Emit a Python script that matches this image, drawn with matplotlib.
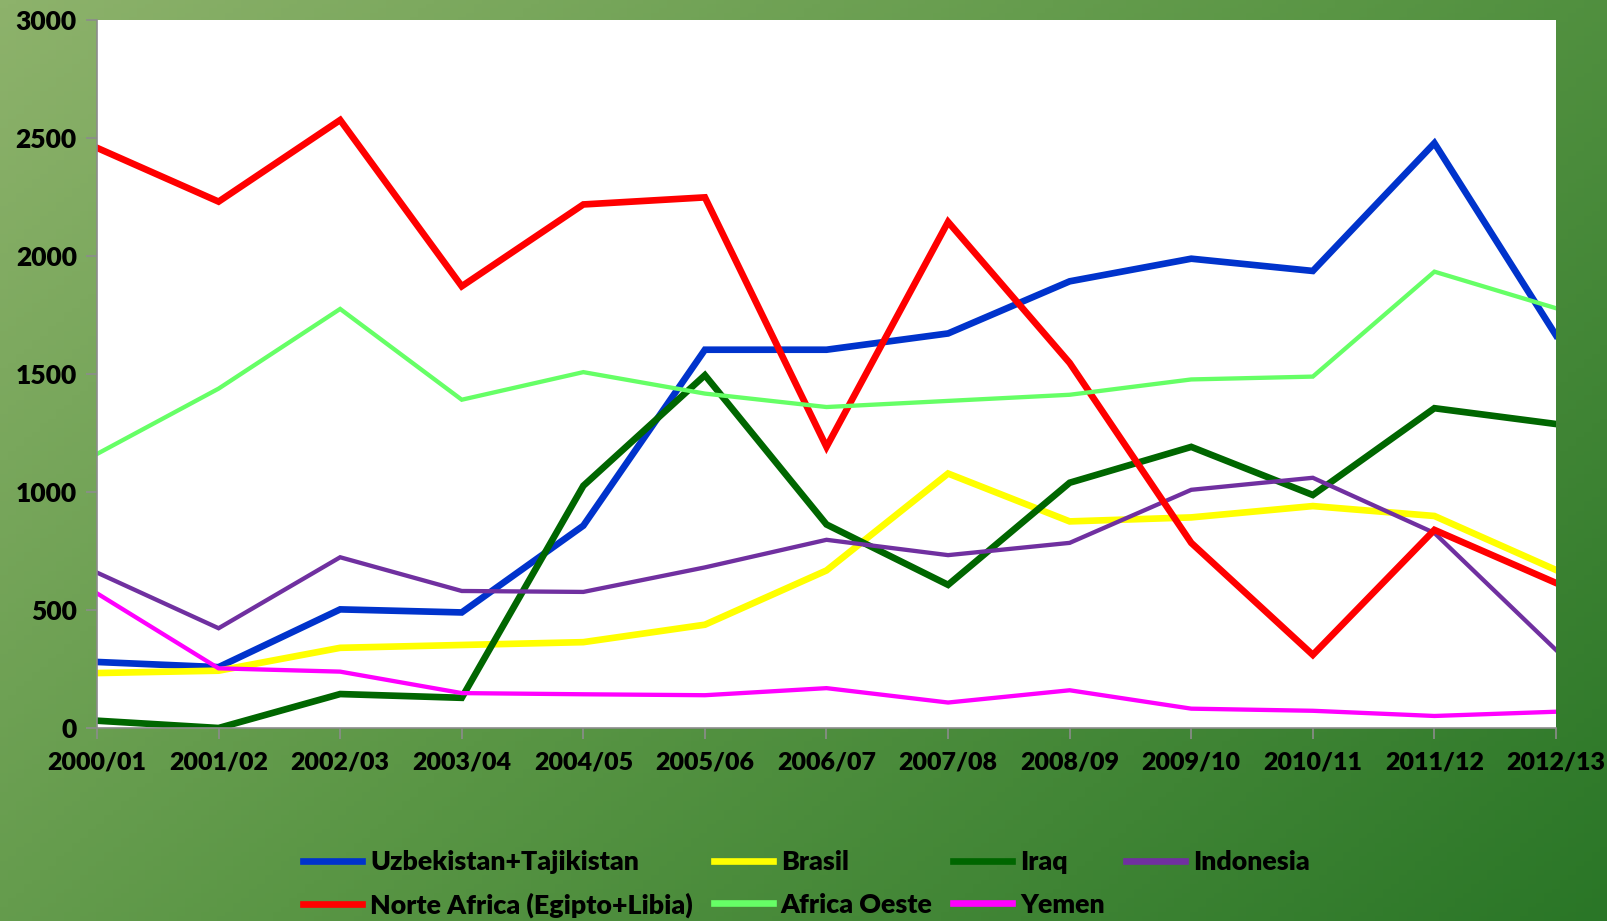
import numpy as np
import matplotlib
matplotlib.use("Agg")
import matplotlib.pyplot as plt
from matplotlib.colors import LinearSegmentedColormap

seasons = ["2000/01", "2001/02", "2002/03", "2003/04", "2004/05", "2005/06", "2006/07",
           "2007/08", "2008/09", "2009/10", "2010/11", "2011/12", "2012/13"]

uzbekistan = [280, 258, 503, 490, 858, 1604, 1604, 1673, 1894, 1990, 1938, 2480, 1665]
brasil = [233, 243, 340, 352, 364, 438, 668, 1079, 876, 893, 941, 899, 670]
iraq = [31, 0, 144, 128, 1027, 1496, 863, 607, 1040, 1192, 988, 1356, 1289]
indonesia = [659, 423, 724, 581, 577, 681, 798, 733, 785, 1010, 1061, 827, 331]
norte_africa = [2460, 2232, 2578, 1873, 2220, 2250, 1192, 2146, 1548, 785, 310, 840, 615]
africa_oeste = [1162, 1439, 1777, 1392, 1509, 1418, 1361, 1387, 1413, 1478, 1490, 1935, 1780]
yemen = [571, 253, 239, 148, 143, 139, 169, 108, 160, 82, 73, 51, 69]

y_ticks = [0, 500, 1000, 1500, 2000, 2500, 3000]

series = [
    ("Uzbekistan+Tajikistan", uzbekistan, "#0033CC", 4.8),
    ("Brasil", brasil, "#FFFF00", 4.8),
    ("Iraq", iraq, "#006600", 4.8),
    ("Indonesia", indonesia, "#7030A0", 3.1),
    ("Norte Africa (Egipto+Libia)", norte_africa, "#FF0000", 4.8),
    ("Africa Oeste", africa_oeste, "#66FF66", 3.1),
    ("Yemen", yemen, "#FF00FF", 3.1),
]

plt.rcParams['font.family'] = ['Lato', 'DejaVu Sans']
plt.rcParams['font.weight'] = 'bold'
FW = 'heavy'

W, H = 1608, 921
fig = plt.figure(figsize=(W / 100, H / 100), dpi=100)

# gradient background
bg = fig.add_axes([0, 0, 1, 1], zorder=-10)
bg.set_axis_off()
xx, yy = np.meshgrid(np.linspace(0, 1, 200), np.linspace(0, 1, 200))
t = (xx * 0.6 + yy * 0.4)
cmap = LinearSegmentedColormap.from_list("g", ["#8DB26B", "#5A9645", "#2A7627"])
bg.imshow(t, cmap=cmap, aspect='auto', extent=[0, 1, 0, 1], origin='upper')
bg.set_xlim(0, 1)
bg.set_ylim(0, 1)

left, right = 97 / W, 1556 / W
top, bottom = 1 - 20.5 / H, 1 - 728 / H
ax = fig.add_axes([left, bottom, right - left, top - bottom])
ax.set_facecolor("white")

x = np.arange(len(seasons))
lines = {}
for name, vals, color, lw in series:
    ln, = ax.plot(x, vals, color=color, lw=lw, label=name, solid_joinstyle='miter')
    lines[name] = ln

ax.set_xlim(0, len(seasons) - 1)
ax.set_ylim(0, 3000)
ax.set_yticks(y_ticks)
ax.set_xticks(x)
ax.set_xticklabels(seasons)
for s in ["top", "right"]:
    ax.spines[s].set_visible(False)
for s in ["left", "bottom"]:
    ax.spines[s].set_color("#8C8C8C")
    ax.spines[s].set_linewidth(1.2)
ax.tick_params(axis='both', colors="#8C8C8C", length=8, width=1.2, labelcolor="black")
ax.tick_params(axis='y', pad=6.5, labelsize=19)
ax.tick_params(axis='x', pad=9, labelsize=18)
for lab in ax.get_xticklabels() + ax.get_yticklabels():
    lab.set_fontweight(FW)

order = ["Uzbekistan+Tajikistan", "Norte Africa (Egipto+Libia)", "Brasil", "Africa Oeste",
         "Iraq", "Yemen", "Indonesia"]
handles = [lines[n] for n in order]
leg = fig.legend(handles, order, loc='upper left', bbox_to_anchor=(303 / W, 1 - 850 / H),
                 ncol=4, frameon=False, fontsize=19.3, handlelength=2.2, handletextpad=0.3,
                 columnspacing=0.78, labelspacing=0.7, borderpad=0, borderaxespad=0)
for txt in leg.get_texts():
    txt.set_fontweight(FW)
for lh in leg.get_lines():
    lh.set_linewidth(4.8)

fig.savefig("out.png", dpi=100)
